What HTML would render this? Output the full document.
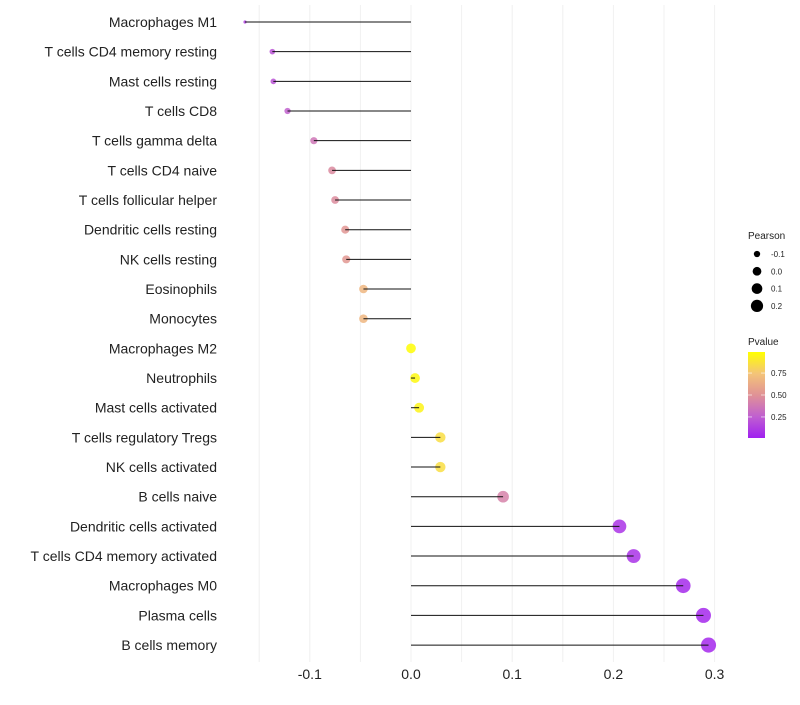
<!DOCTYPE html>
<html><head><meta charset="utf-8"><style>
body{margin:0;background:#fff;font-family:"Liberation Sans",sans-serif;}
svg text{font-family:"Liberation Sans",sans-serif;}
</style></head><body>
<svg id="chart" width="800" height="700"></svg>
<script>
const categories=["Macrophages M1","T cells CD4 memory resting","Mast cells resting","T cells CD8","T cells gamma delta","T cells CD4 naive","T cells follicular helper","Dendritic cells resting","NK cells resting","Eosinophils","Monocytes","Macrophages M2","Neutrophils","Mast cells activated","T cells regulatory  Tregs ","NK cells activated","B cells naive","Dendritic cells activated","T cells CD4 memory activated","Macrophages M0","Plasma cells","B cells memory"];
const pearson=[-0.164,-0.137,-0.136,-0.122,-0.096,-0.078,-0.075,-0.065,-0.064,-0.047,-0.047,0.0,0.004,0.008,0.029,0.029,0.091,0.206,0.220,0.269,0.289,0.294];
const pvalues=[0.12,0.2,0.2,0.26,0.36,0.46,0.47,0.52,0.53,0.68,0.68,0.99,0.97,0.95,0.86,0.86,0.42,0.08,0.07,0.04,0.03,0.03];
const xTicks=[-0.1,0.0,0.1,0.2,0.3];
const xTickLabels=["-0.1","0.0","0.1","0.2","0.3"];
const gridVals=[-0.15,-0.1,-0.05,0,0.05,0.1,0.15,0.2,0.25,0.3];
const sizeLegend=[-0.1,0.0,0.1,0.2];
const pLegend=[0.75,0.5,0.25];
const NS="http://www.w3.org/2000/svg";
const svg=document.getElementById('chart');
const x=v=>411+v*1012;
const y=i=>22+i*29.67;
const r=v=>{const t=Math.max(0,(v+0.164)/0.458);return t<0.01?1.6:Math.sqrt(5+52*t);};
const stops=[[0,[160,32,240]],[0.25,[192,96,208]],[0.5,[224,146,150]],[0.75,[244,196,120]],[1,[255,255,0]]];
function col(p){for(let k=0;k<stops.length-1;k++){const [o1,c1]=stops[k],[o2,c2]=stops[k+1];if(p<=o2||k==stops.length-2){const t=Math.min(1,Math.max(0,(p-o1)/(o2-o1)));return `rgb(${c1.map((c,j)=>Math.round(c+(c2[j]-c)*t)).join(',')})`;}}}
function mk(t,at){const e=document.createElementNS(NS,t);for(const k in at)e.setAttribute(k,at[k]);svg.appendChild(e);return e;}
gridVals.forEach(v=>{const g=mk('line',{x1:x(v),x2:x(v),y1:5,y2:662,stroke:'#f0f0f0','stroke-width':1});

});
xTicks.forEach((v,i)=>{const t=mk('text',{x:x(v),y:679,'text-anchor':'middle','font-size':14,fill:'#222'});t.textContent=xTickLabels[i];

});
categories.forEach((c,i)=>{
const t=mk('text',{x:217,y:y(i)+5,'text-anchor':'end','font-size':14,fill:'#222'});t.textContent=c;


const d=mk('circle',{cx:x(pearson[i]),cy:y(i),r:r(pearson[i]),fill:col(pvalues[i]),'fill-opacity':0.85});


const l=mk('line',{x1:x(0),x2:x(pearson[i]),y1:y(i),y2:y(i),stroke:'#111','stroke-width':1});


});
let t=mk('text',{x:748,y:239,'font-size':10,fill:'#222'});t.textContent='Pearson';


sizeLegend.forEach((v,i)=>{const cy=254+i*17.3;
const c=mk('circle',{cx:757,cy:cy,r:r(v)*0.9,fill:'#000'});


const tt=mk('text',{x:771,y:cy+3,'font-size':8,fill:'#222'});tt.textContent=v.toFixed(1);

});
t=mk('text',{x:748,y:345,'font-size':10,fill:'#222'});t.textContent='Pvalue';


const defs=mk('defs',{});
const g=document.createElementNS(NS,'linearGradient');g.setAttribute('id','pg');g.setAttribute('x1',0);g.setAttribute('x2',0);g.setAttribute('y1',1);g.setAttribute('y2',0);defs.appendChild(g);
stops.forEach(([o])=>{const s=document.createElementNS(NS,'stop');s.setAttribute('offset',o);s.setAttribute('stop-color',col(o));g.appendChild(s);});
const bar=mk('rect',{x:748,y:352,width:17,height:86,fill:'url(#pg)'});


const py=p=>438-(p-0.01)/0.98*86;
pLegend.forEach(p=>{mk('line',{x1:748,x2:752,y1:py(p),y2:py(p),stroke:'#fff','stroke-opacity':0.6});mk('line',{x1:761,x2:765,y1:py(p),y2:py(p),stroke:'#fff','stroke-opacity':0.6});
const tt=mk('text',{x:771,y:py(p)+3,'font-size':8,fill:'#222'});tt.textContent=p.toFixed(2);

});
</script>
</body></html>
